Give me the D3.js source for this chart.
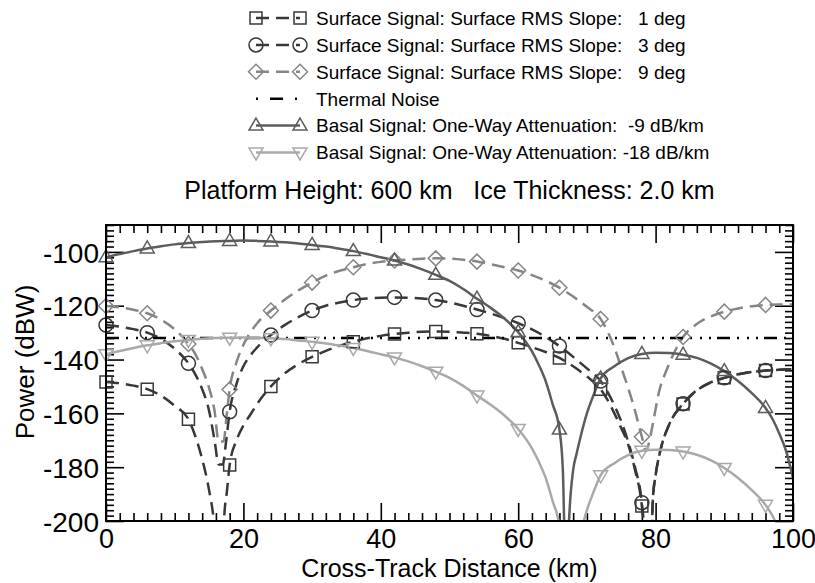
<!DOCTYPE html>
<html>
<head>
<meta charset="utf-8">
<script src="https://cdn.jsdelivr.net/npm/d3@7"></script>
<style>
  body { margin: 0; background: #fff; }
  text { font-family: "Liberation Sans", Arial, Helvetica, sans-serif; fill: #000; }
</style>
</head>
<body>
<svg id="chart" width="815" height="583"></svg>
<script>
// ---- data: [cross-track distance (km), power (dBW)] ----
const xTickValues = [0, 20, 40, 60, 80, 100];
const yTickValues = [-200, -180, -160, -140, -120, -100];

const surfaceSlope1 = [
  [0,-148.3],[2,-148.8],[4,-149.7],[6,-151],[8,-153.4],[10,-157.2],[12,-162.2],[13,-168.5],
  [14,-177],[15,-188.5],[15.7,-200],[16.2,-215],[16.7,-240],[17.2,-199],[17.6,-189],[18,-179.2],
  [19,-170],[20,-164.5],[21,-160.5],[22,-156.5],[24,-150],[26,-145.2],[28,-141.7],[30,-139],
  [32,-136.8],[34,-134.9],[36,-133.4],[38,-132.1],[40,-131.2],[42,-130.5],[44,-130],[46,-129.7],
  [48,-129.6],[50,-129.7],[52,-130],[54,-130.4],[56,-131.2],[58,-132.3],[60,-133.8],[62,-135.4],
  [64,-137.2],[66,-139.4],[68,-142.5],[70,-146.3],[72,-151],[73,-155],[74,-160],[75,-165.5],
  [76,-171.5],[77,-181],[78,-194.4],[78.6,-212],[79.1,-240],[79.6,-192],[80,-183],[80.6,-174.8],
  [82,-164],[84,-156.5],[86,-151.5],[88,-148.6],[90,-146.8],[92,-145.5],[94,-144.6],[96,-144.1],
  [98,-143.8],[100,-143.6]
];

const surfaceSlope3 = [
  [0,-127.2],[2,-127.8],[4,-128.7],[6,-130],[8,-132.3],[10,-136],[12,-141.4],[13,-145.5],
  [14,-151],[15,-159],[15.8,-170],[16.4,-179],[17,-179],[17.5,-170],[18,-159.4],[19,-149],
  [20,-142.5],[21,-138.5],[22,-135.5],[24,-130.9],[26,-127.2],[28,-124.2],[30,-121.8],[32,-120],
  [34,-118.8],[36,-117.9],[38,-117.3],[40,-117],[42,-116.9],[44,-117],[46,-117.3],[48,-117.9],
  [50,-118.8],[52,-120],[54,-121.4],[56,-122.9],[58,-124.6],[60,-126.5],[62,-128.8],[64,-131.6],
  [66,-135],[68,-139],[70,-143.3],[72,-148],[73,-152],[74,-157],[75,-163],[76,-170.5],
  [77,-180],[78,-193.2],[78.6,-212],[79.1,-240],[79.6,-192],[80,-183],[80.6,-174.8],[82,-164],
  [84,-156.4],[86,-151.4],[88,-148.5],[90,-146.8],[92,-145.5],[94,-144.6],[96,-144.1],[98,-143.8],
  [100,-143.6]
];

const surfaceSlope9 = [
  [0,-120.1],[2,-120.6],[4,-121.5],[6,-122.8],[8,-125.2],[10,-128.8],[12,-134.2],[13,-138],
  [14,-143.5],[15,-150.5],[15.8,-159],[16.4,-170.5],[17.1,-170.5],[17.6,-160],[18,-151.1],[19,-141],
  [20,-134.5],[21,-130],[22,-126.5],[24,-121.8],[26,-117.8],[28,-114.3],[30,-111.4],[32,-108.8],
  [34,-107],[36,-105.7],[38,-104.5],[40,-103.7],[42,-103.2],[44,-102.8],[46,-102.5],[48,-102.4],
  [50,-102.5],[52,-102.9],[54,-103.6],[56,-104.6],[58,-105.7],[60,-106.9],[62,-108.6],[64,-110.7],
  [66,-113.3],[68,-116.6],[70,-120.4],[72,-124.9],[73,-129.5],[74,-135.5],[75,-143],[76,-150.5],
  [77,-159],[78,-168.7],[78.6,-174],[79.2,-169],[79.7,-162.5],[80.5,-152],[81.6,-143.9],[82.5,-138.5],
  [84,-131.6],[86,-126.8],[88,-124],[90,-122.2],[92,-121],[94,-120.2],[96,-119.7],[98,-119.5],
  [100,-119.5]
];

const thermalNoise = [[0,-132],[100,-132]];

const basalAtten9 = [
  [0,-102],[2,-100.8],[4,-99.7],[6,-98.7],[8,-97.9],[10,-97.2],[12,-96.7],[14,-96.3],
  [16,-96],[18,-95.9],[20,-95.8],[22,-95.9],[24,-96.1],[26,-96.4],[28,-96.9],[30,-97.4],
  [32,-98],[34,-98.8],[36,-99.7],[38,-100.8],[40,-102],[42,-103.2],[44,-104.7],[46,-106.5],
  [48,-108.5],[50,-110.8],[52,-113.8],[54,-117.4],[56,-120.8],[58,-124.8],[60,-129.8],[62,-137],
  [63,-142],[64,-148],[65,-156.5],[66,-166],[66.5,-181],[67,-230],[67.4,-200],[68,-181],
  [68.5,-175],[69,-169.5],[70,-160],[71,-153],[72,-147],[74,-142.5],[76,-139.5],[78,-137.9],
  [80,-137.5],[82,-137.6],[84,-138.2],[86,-139.4],[88,-141.4],[90,-144.3],[92,-148],[94,-152.5],
  [96,-158],[97,-162],[98,-167.5],[99,-174],[100,-184]
];

const basalAtten18 = [
  [0,-138],[2,-136.8],[4,-135.7],[6,-134.7],[8,-133.9],[10,-133.2],[12,-132.7],[14,-132.3],
  [16,-132],[18,-131.9],[20,-131.8],[22,-131.9],[24,-132.1],[26,-132.4],[28,-132.9],[30,-133.4],
  [32,-134],[34,-134.8],[36,-135.7],[38,-136.8],[40,-138],[42,-139.2],[44,-140.7],[46,-142.5],
  [48,-144.5],[50,-146.8],[52,-149.8],[54,-153.4],[56,-156.8],[58,-160.8],[60,-165.8],[62,-173],
  [63,-178],[64,-184],[65,-192.5],[66,-202],[66.5,-217],[67,-266],[67.4,-236],[68,-217],
  [68.5,-211],[69,-205.5],[70,-196],[71,-189],[72,-183],[74,-178.5],[76,-175.5],[78,-173.9],
  [80,-173.5],[82,-173.6],[84,-174.2],[86,-175.4],[88,-177.4],[90,-180.3],[92,-184],[94,-188.5],
  [96,-194],[97,-198],[98,-203.5],[99,-210],[100,-220]
];

const legendLabels = [
  "Surface Signal: Surface RMS Slope:   1 deg",
  "Surface Signal: Surface RMS Slope:   3 deg",
  "Surface Signal: Surface RMS Slope:   9 deg",
  "Thermal Noise",
  "Basal Signal: One-Way Attenuation:  -9 dB/km",
  "Basal Signal: One-Way Attenuation: -18 dB/km"
];

const titleText = "Platform Height: 600 km   Ice Thickness: 2.0 km";
const xTitle = "Cross-Track Distance (km)";
const yTitle = "Power (dBW)";

// ---- styling of each series ----
const series = [
  { data: surfaceSlope1, color: "#383838", dash: "13,7", marker: "square" },
  { data: surfaceSlope3, color: "#383838", dash: "13,7", marker: "circle" },
  { data: surfaceSlope9, color: "#858585", dash: "13,7", marker: "diamond" },
  { data: thermalNoise,  color: "#000000", dash: "13,7,2,8,2,7,2,6", marker: null, legendDash: "2,12,13,12,2,20" },
  { data: basalAtten9,   color: "#5c5c5c", dash: null, marker: "triangleUp" },
  { data: basalAtten18,  color: "#a9a9a9", dash: null, marker: "triangleDown" }
];

const markerPaths = {
  square: "M-6,-6H6V6H-6Z",
  circle: "M7,0A7,7 0 1,1 -7,0A7,7 0 1,1 7,0Z",
  diamond: "M0,-7.5L7.5,0L0,7.5L-7.5,0Z",
  triangleUp: "M0,-7.5L7,4.5L-7,4.5Z",
  triangleDown: "M0,7.5L7,-4.5L-7,-4.5Z"
};

// ---- layout ----
const plot = { left: 106, right: 793, top: 225, bottom: 521 };
const svg = d3.select("#chart");

const x = d3.scaleLinear().domain([0, 100]).range([plot.left, plot.right]);
const y = d3.scaleLinear().domain([-200, -90]).range([plot.bottom, plot.top]);

svg.append("defs").append("clipPath").attr("id", "plotClip")
  .append("rect")
  .attr("x", plot.left).attr("y", plot.top)
  .attr("width", plot.right - plot.left).attr("height", plot.bottom - plot.top);

// ---- axes: ticks point inward on all four sides ----
const xMinor = d3.range(0, 101, 2).filter(v => v % 20 !== 0);
const yMinor = d3.range(-200, -89, 2).filter(v => v % 20 !== 0);
const plainNumber = d => String(d);   // keeps an ASCII hyphen for negatives

function styleAxis(g) {
  g.select(".domain").remove();
  g.selectAll(".tick line").attr("stroke", "#000").attr("stroke-width", 1.6);
}

svg.append("g").attr("transform", `translate(0,${plot.bottom})`)
  .call(d3.axisBottom(x).tickValues(xTickValues).tickSize(-18).tickPadding(8).tickFormat(plainNumber))
  .call(styleAxis)
  .call(g => g.selectAll("text").attr("font-size", 27).attr("font-family", null));
svg.append("g").attr("transform", `translate(0,${plot.bottom})`)
  .call(d3.axisBottom(x).tickValues(xMinor).tickSize(-8).tickFormat(""))
  .call(styleAxis);
svg.append("g").attr("transform", `translate(0,${plot.top})`)
  .call(d3.axisTop(x).tickValues(xTickValues).tickSize(-18).tickFormat(""))
  .call(styleAxis);
svg.append("g").attr("transform", `translate(0,${plot.top})`)
  .call(d3.axisTop(x).tickValues(xMinor).tickSize(-8).tickFormat(""))
  .call(styleAxis);

svg.append("g").attr("transform", `translate(${plot.left},0)`)
  .call(d3.axisLeft(y).tickValues(yTickValues).tickSize(-18).tickPadding(7).tickFormat(plainNumber))
  .call(styleAxis)
  .call(g => g.selectAll("text").attr("font-size", 28).attr("font-family", null).attr("dy", "0.36em"));
svg.append("g").attr("transform", `translate(${plot.left},0)`)
  .call(d3.axisLeft(y).tickValues(yMinor).tickSize(-8).tickFormat(""))
  .call(styleAxis);
svg.append("g").attr("transform", `translate(${plot.right},0)`)
  .call(d3.axisRight(y).tickValues(yTickValues).tickSize(-18).tickFormat(""))
  .call(styleAxis);
svg.append("g").attr("transform", `translate(${plot.right},0)`)
  .call(d3.axisRight(y).tickValues(yMinor).tickSize(-8).tickFormat(""))
  .call(styleAxis);

// ---- curves ----
const line = d3.line()
  .x(d => x(d[0]))
  .y(d => y(d[1]))
  .curve(d3.curveMonotoneX);

const curves = svg.append("g").attr("clip-path", "url(#plotClip)");
series.forEach(s => {
  curves.append("path")
    .datum(s.data)
    .attr("d", line)
    .attr("fill", "none")
    .attr("stroke", s.color)
    .attr("stroke-width", 2.5)
    .attr("stroke-dasharray", s.dash);
});

// markers every 6 km, drawn only where the value lies inside the power range
series.forEach(s => {
  if (!s.marker) return;
  const pts = s.data.filter(d => d[0] % 6 === 0 && d[1] >= -200 && d[1] <= -90);
  svg.append("g").selectAll("path")
    .data(pts)
    .join("path")
    .attr("transform", d => `translate(${x(d[0])},${y(d[1])})`)
    .attr("d", markerPaths[s.marker])
    .attr("fill", "none")
    .attr("stroke", s.color)
    .attr("stroke-width", 1.5);
});

// frame
svg.append("rect")
  .attr("x", plot.left).attr("y", plot.top)
  .attr("width", plot.right - plot.left).attr("height", plot.bottom - plot.top)
  .attr("fill", "none").attr("stroke", "#000").attr("stroke-width", 2);

// ---- titles ----
svg.append("text")
  .attr("x", (plot.left + plot.right) / 2).attr("y", 199)
  .attr("text-anchor", "middle").attr("font-size", 25)
  .style("white-space", "pre")
  .text(titleText);

svg.append("text")
  .attr("x", (plot.left + plot.right) / 2).attr("y", 577)
  .attr("text-anchor", "middle").attr("font-size", 25)
  .text(xTitle);

svg.append("text")
  .attr("transform", `translate(34,362) rotate(-90)`)
  .attr("text-anchor", "middle").attr("font-size", 26)
  .text(yTitle);

// ---- legend ----
const legend = svg.append("g");
const legX1 = 256, legX2 = 300, legTextX = 316, legY0 = 18, legStep = 26.9;
series.forEach((s, i) => {
  const ly = legY0 + i * legStep;
  legend.append("line")
    .attr("x1", legX1).attr("x2", legX2).attr("y1", ly).attr("y2", ly)
    .attr("stroke", s.color).attr("stroke-width", 2.5)
    .attr("stroke-dasharray", s.legendDash || s.dash);
  if (s.marker) {
    [legX1, legX2].forEach(mx => {
      legend.append("path")
        .attr("transform", `translate(${mx},${ly})`)
        .attr("d", markerPaths[s.marker])
        .attr("fill", "none").attr("stroke", s.color).attr("stroke-width", 1.5);
    });
  }
  legend.append("text")
    .attr("x", legTextX).attr("y", ly)
    .attr("dy", "0.36em")
    .attr("font-size", 19)
    .attr("xml:space", "preserve")
    .style("white-space", "pre")
    .text(legendLabels[i]);
});
</script>
</body>
</html>
